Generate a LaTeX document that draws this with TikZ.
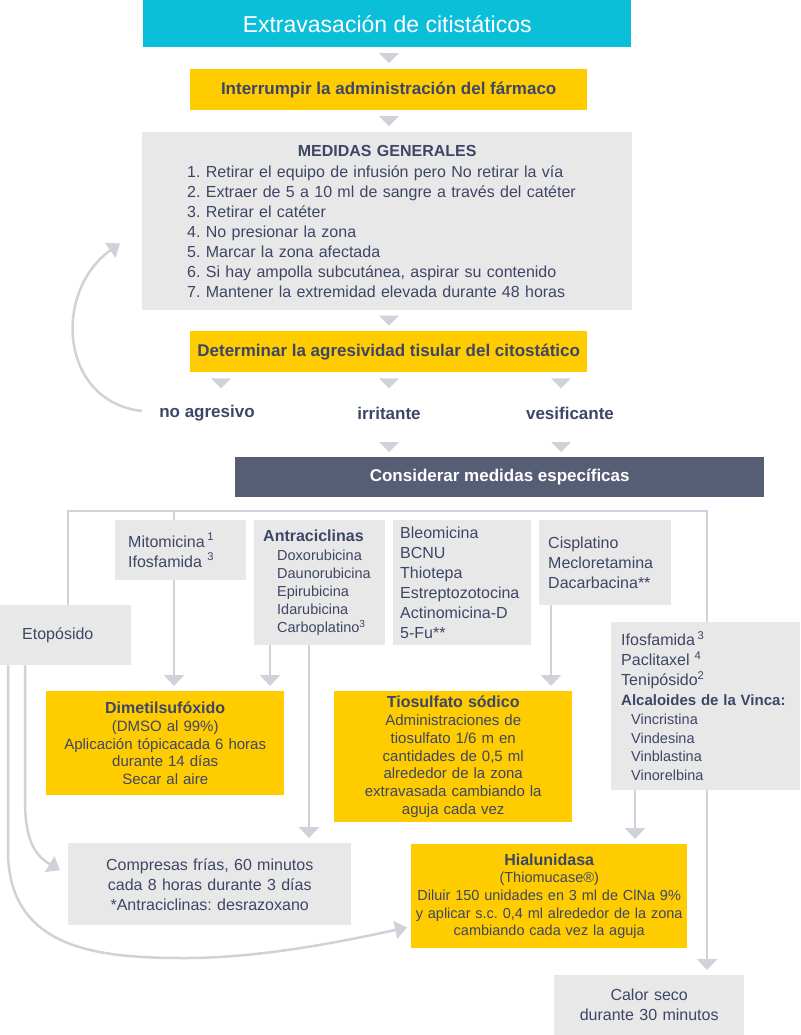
\documentclass[tikz,border=0pt]{standalone}
\usepackage{fontspec}
\setmainfont{Liberation Sans}
\usetikzlibrary{arrows.meta,calc}
\definecolor{cyanbox}{RGB}{12,191,216}
\definecolor{yel}{RGB}{255,204,0}
\definecolor{greybox}{RGB}{232,232,233}
\definecolor{darkbox}{RGB}{86,94,118}
\definecolor{ink}{RGB}{62,70,102}
\definecolor{conn}{RGB}{208,210,218}
\newcommand{\fs}[2]{\fontsize{#1}{#2}\selectfont}
\newcommand{\ind}{\hspace*{14pt}}
\frenchspacing
\begin{document}
\begin{tikzpicture}[x=1pt,y=-1pt,
  box/.style={rectangle, inner sep=0pt, anchor=north west, text=ink},
  ybox/.style={box, fill=yel},
  gbox/.style={box, fill=greybox},
  head/.style={font=\fs{17}{20}\bfseries},
  lab/.style={text=ink, inner sep=0pt, font=\fs{17}{20}\bfseries},
  line/.style={draw=conn, line width=2.5pt},
  arr/.style={line, -{Triangle[width=20pt,length=11pt]}, shorten >=5pt},
  downtri/.pic={\fill[conn] (-10,-5) -- (10,-5) -- (0,5) -- cycle;}]
\useasboundingbox (0,0) rectangle (800,1035);

% column positions of the connectors
\coordinate (cA) at (221,0);
\coordinate (cB) at (389,0);
\coordinate (cC) at (561,0);
\coordinate (cM) at (174,0);
\coordinate (cAn) at (270,0);
\coordinate (cAc) at (309,0);
\coordinate (cCi) at (551,0);
\coordinate (cVh) at (635,0);
\coordinate (busL) at (68,511);
\coordinate (busR) at (707,511);

% main column
\node[box, fill=cyanbox, text=white, minimum width=488, minimum height=47,
      font=\fs{23}{27}] (title) at (143,0) {Extravasación de citistáticos};
\node[ybox, head, minimum width=397, minimum height=41] (intr) at (190,69)
  {Interrumpir la administración del fármaco};
\node[gbox, minimum width=490, minimum height=178, text width=400, inner xsep=45,
      align=left, font=\fs{16}{20}] (mg) at (142,132)
  {\makebox[400pt]{\bfseries MEDIDAS GENERALES}\\[1pt]
   1. Retirar el equipo de infusión pero No retirar la vía\\
   2. Extraer de 5 a 10 ml de sangre a través del catéter\\
   3. Retirar el catéter\\
   4. No presionar la zona\\
   5. Marcar la zona afectada\\
   6. Si hay ampolla subcutánea, aspirar su contenido\\
   7. Mantener la extremidad elevada durante 48 horas};
\node[ybox, head, minimum width=397, minimum height=41] (det) at (190,331)
  {Determinar la agresividad tisular del citostático};

\node[lab] (noagr) at (207,413) {no agresivo};
\node[lab] (irr) at (389,413) {irritante};
\node[lab] (ves) at (570,413) {vesificante};

\node[box, fill=darkbox, text=white, head, minimum width=529, minimum height=40]
  (cons) at (235,457) {Considerar medidas específicas};

\pic at ($(title.south -| cB)!0.5!(intr.north -| cB)$) {downtri};
\pic at ($(intr.south -| cB)!0.5!(mg.north -| cB)$) {downtri};
\pic at ($(mg.south -| cB)!0.5!(det.north -| cB)$) {downtri};
\pic at ($(det.south -| cA)+(0,11)$) {downtri};
\pic at ($(det.south -| cB)+(0,11)$) {downtri};
\pic at ($(det.south -| cC)+(0,11)$) {downtri};
\pic at ($(cons.north -| cB)+(0,-10)$) {downtri};
\pic at ($(cons.north -| cC)+(0,-10)$) {downtri};

% back to the general measures
\draw[line, -{Triangle[width=18pt,length=12pt]}]
  ($(noagr.west)+(-17,-2)$) .. controls (60,402) and (52,292) .. ($(mg.south west)+(-22,-67)$);

% groups of drugs
\node[gbox, minimum width=131, minimum height=60, text width=105, inner xsep=13,
      align=left, font=\fs{16}{20}] (mito) at (115,520)
  {Mitomicina\,\textsuperscript{1}\\Ifosfamida \textsuperscript{3}};
\node[gbox, minimum width=131, minimum height=125, text width=113, inner xsep=9,
      align=left, font=\fs{14.5}{18}] (antra) at (254,520)
  {{\fs{16}{18}\bfseries Antraciclinas}\\[1pt]
   \ind Doxorubicina\\\ind Daunorubicina\\\ind Epirubicina\\\ind Idarubicina\\
   \ind Carboplatino\textsuperscript{3}};
\node[gbox, minimum width=138, minimum height=125, text width=124, inner xsep=7,
      align=left, font=\fs{16}{20}] (bleo) at (393,520)
  {Bleomicina\\BCNU\\Thiotepa\\Estreptozotocina\\Actinomicina-D\\5-Fu**};
\node[gbox, minimum width=132, minimum height=85, text width=114, inner xsep=9,
      align=left, font=\fs{16}{20}] (cis) at (539,520)
  {Cisplatino\\Mecloretamina\\Dacarbacina**};
\node[gbox, minimum width=131, minimum height=60, text width=87, inner xsep=22,
      align=left, font=\fs{16}{20}] (eto) at (0,605) {Etopósido};
\node[gbox, minimum width=189, minimum height=168, text width=169, inner xsep=10,
      align=left, font=\fs{14.5}{18.5}] (vinca) at (611,622)
  {{\fs{16}{18.5}Ifosfamida\,\textsuperscript{3}}\\[1.5pt]
   {\fs{16}{18.5}Paclitaxel \textsuperscript{4}}\\[1.5pt]
   {\fs{16}{18.5}Tenipósido\textsuperscript{2}}\\[1.5pt]
   \mbox{\fs{15}{18.5}\bfseries Alcaloides de la Vinca:}\\[0.5pt]
   \hspace*{10pt}Vincristina\\\hspace*{10pt}Vindesina\\\hspace*{10pt}Vinblastina\\
   \hspace*{10pt}Vinorelbina};

% treatments
\node[ybox, minimum width=238, minimum height=104, text width=238, align=center,
      font=\fs{15}{17.8}] (dim) at (46,691)
  {{\fs{16}{17.8}\bfseries Dimetilsufóxido}\\(DMSO al 99\%)\\
   Aplicación tópicacada 6 horas\\durante 14 días\\Secar al aire};
\node[ybox, minimum width=238, minimum height=131, text width=238, align=center,
      font=\fs{15}{17.8}] (tio) at (334,691)
  {{\fs{16}{17.8}\bfseries Tiosulfato sódico}\\Administraciones de\\
   tiosulfato 1/6 m en\\cantidades de 0,5 ml\\alrededor de la zona\\
   extravasada cambiando la\\aguja cada vez};
\node[gbox, minimum width=283, minimum height=82, text width=283, align=center,
      font=\fs{16}{20}] (comp) at (68,843)
  {Compresas frías, 60 minutos\\cada 8 horas durante 3 días\\
   {*}Antraciclinas: desrazoxano};
\node[ybox, minimum width=276, minimum height=104, text width=276, align=center,
      font=\fs{14.5}{17.7}] (hia) at (411,844)
  {{\fs{16}{17.7}\bfseries Hialunidasa}\\(Thiomucase®)\\
   \mbox{Diluir 150 unidades en 3 ml de ClNa 9\%}\\
   \mbox{y aplicar s.c. 0,4 ml alrededor de la zona}\\cambiando cada vez la aguja};
\node[gbox, minimum width=190, minimum height=60, text width=190, align=center,
      font=\fs{16}{20}] (calor) at (554,975) {Calor seco\\durante 30 minutos};

% distribution line
\draw[line] (eto.north -| busL) -- (busL) -- (busR) -- (vinca.north -| busR);
\draw[line] (busL -| cM) -- (mito.north -| cM);

% connectors to the treatments
\draw[arr] (mito.south -| cM) -- (dim.north -| cM);
\draw[arr] (antra.south -| cAn) -- (dim.north -| cAn);
\draw[arr] (antra.south -| cAc) -- (comp.north -| cAc);
\draw[arr] (cis.south -| cCi) -- (tio.north -| cCi);
\draw[arr] (vinca.south -| cVh) -- (hia.north -| cVh);
\draw[arr] (vinca.south -| busR) -- (calor.north -| busR);
\draw[line, -{Triangle[width=18pt,length=12pt]}]
  ($(eto.south west)+(25,0)$) -- ($(eto.south west)+(25,135)$)
  .. controls ($(eto.south west)+(25,175)$) and ($(eto.south west)+(35,190)$)
  .. ($(comp.west)+(-8,-14)$);
\draw[line, -{Triangle[width=18pt,length=12pt]}]
  ($(eto.south west)+(8,0)$) -- ($(eto.south west)+(8,185)$)
  .. controls ($(eto.south west)+(8,285)$) and (100,958) .. (185,958)
  .. controls (260,958) and (340,942) .. ($(hia.south west)+(-4,-21)$);
\end{tikzpicture}
\end{document}
